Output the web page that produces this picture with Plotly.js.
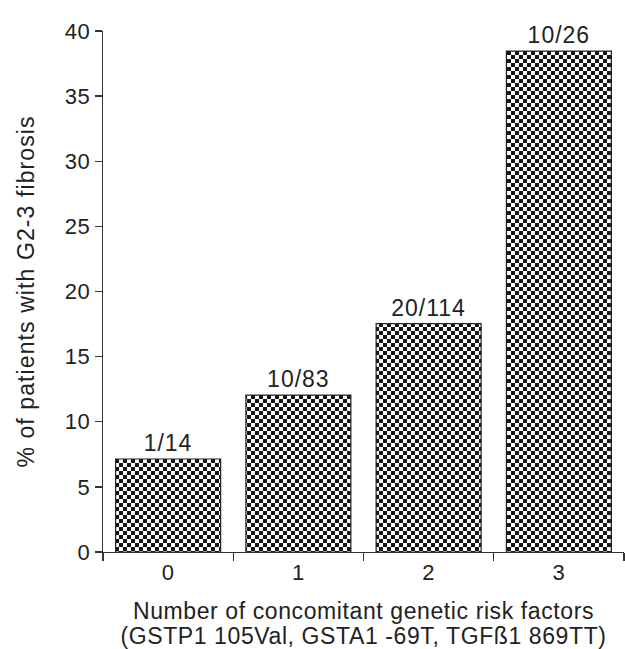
<!DOCTYPE html>
<html>
<head>
<meta charset="utf-8">
<script src="https://cdn.plot.ly/plotly-3.0.1.min.js"></script>
<style>
html,body{margin:0;padding:0;background:#fff;}
#chart{width:625px;height:649px;}
#chart .main-svg text{letter-spacing:0.6px;}
#chart .main-svg text.ytitle{letter-spacing:1.1px;}
#chart .main-svg text.bartext{letter-spacing:1.0px;}
</style>
</head>
<body>
<div id="chart"></div>
<script>
const categories = ["0", "1", "2", "3"];
const percentValues = [7.14, 12.05, 17.54, 38.46];
const barLabels = ["1/14", "10/83", "20/114", "10/26"];
const yTicks = [0, 5, 10, 15, 20, 25, 30, 35, 40];

const FONT = "Liberation Sans, Arial, sans-serif";

const trace = {
  type: "bar",
  x: categories,
  y: percentValues,
  text: barLabels,
  textposition: "outside",
  cliponaxis: false,
  textfont: {family: FONT, size: 23, color: "#222"},
  width: 0.806,
  marker: {
    color: "#ffffff",
    line: {color: "#222", width: 1.2},
    pattern: {shape: ".", size: 8, solidity: 0.5, fgcolor: "#1a1a1a", bgcolor: "#ffffff", fillmode: "replace"}
  },
  hoverinfo: "none"
};

const layout = {
  width: 625, height: 649,
  margin: {l: 103, r: 1, t: 31, b: 97},
  paper_bgcolor: "#fff", plot_bgcolor: "#fff",
  showlegend: false,
  font: {family: FONT, color: "#222"},
  xaxis: {
    type: "category",
    range: [-0.5, 3.5],
    showline: true, linecolor: "#333", linewidth: 1.3,
    ticks: "outside", tickson: "boundaries", ticklen: 8, tickcolor: "#333", tickwidth: 1.3,
    tickfont: {family: FONT, size: 22, color: "#222"},
    showgrid: false, zeroline: false,
    title: {text: "Number of concomitant genetic risk factors<br>(GSTP1 105Val, GSTA1 -69T, TGFß1 869TT)",
            font: {family: FONT, size: 23, color: "#222"}, standoff: 19}
  },
  yaxis: {
    range: [0, 40],
    tickvals: yTicks,
    showline: true, linecolor: "#333", linewidth: 1.3,
    ticks: "outside", ticklen: 7, tickcolor: "#333", tickwidth: 1.3,
    tickfont: {family: FONT, size: 22, color: "#222"},
    showgrid: false, zeroline: false,
    title: {text: "% of patients with G2-3 fibrosis", font: {family: FONT, size: 23, color: "#222"}, standoff: 24}
  }
};

Plotly.newPlot("chart", [trace], layout, {staticPlot: true}).then(function () {
  // turn Plotly's fill pattern into a checkerboard
  const ns = "http://www.w3.org/2000/svg";
  document.querySelectorAll("#chart pattern").forEach(function (p) {
    p.setAttribute("width", "8");
    p.setAttribute("height", "8");
    while (p.firstChild) p.removeChild(p.firstChild);
    const cells = [[0, 0, 8, 8, "#ffffff"], [0, 0, 4, 4, "#151515"], [4, 4, 4, 4, "#151515"]];
    cells.forEach(function (c) {
      const r = document.createElementNS(ns, "rect");
      r.setAttribute("x", c[0]); r.setAttribute("y", c[1]);
      r.setAttribute("width", c[2]); r.setAttribute("height", c[3]);
      r.setAttribute("fill", c[4]);
      p.appendChild(r);
    });
  });
  // slightly tighter line spacing for the two-line x title, nudged down
  const xt = document.querySelector("#chart text.xtitle");
  if (xt) {
    xt.setAttribute("transform", "translate(0,5)");
    const lines = xt.querySelectorAll("tspan.line");
    if (lines.length > 1) lines[1].setAttribute("dy", "1.1em");
  }
});
</script>
</body>
</html>
